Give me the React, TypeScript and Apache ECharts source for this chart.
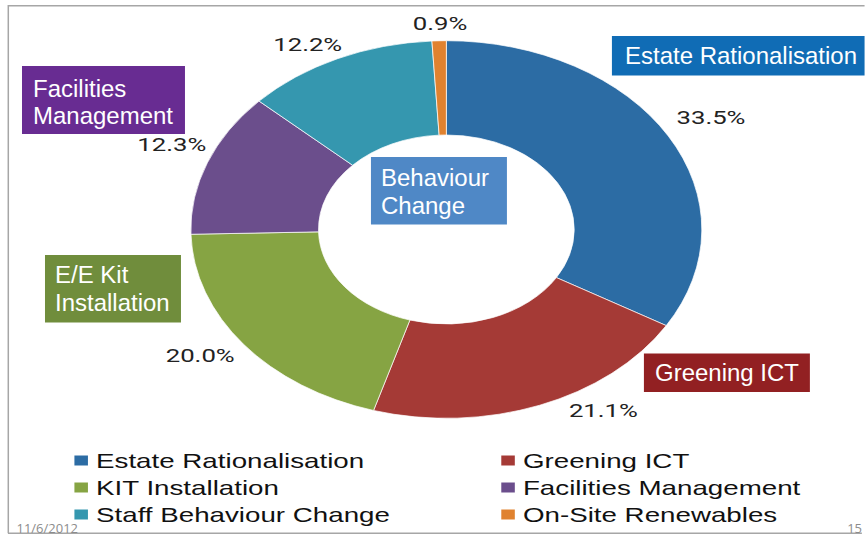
import React, { useEffect, useRef } from 'react';
import * as echarts from 'echarts';

// ---- data ----
const categories = [
  'Estate Rationalisation',
  'Greening ICT',
  'KIT Installation',
  'Facilities Management',
  'Staff Behaviour Change',
  'On-Site Renewables',
];
const values = [33.5, 21.1, 20.0, 12.3, 12.2, 0.9];
const sliceColors = ['#2C6CA4', '#A53A36', '#86A443', '#6B4E8C', '#3597AF', '#E0822F'];
const legendColumnA = [categories[0], categories[2], categories[4]];
const legendColumnB = [categories[1], categories[3], categories[5]];
const calloutTexts = [
  ['Estate Rationalisation'],
  ['Greening ICT'],
  ['Facilities', 'Management'],
  ['E/E Kit', 'Installation'],
  ['Behaviour', 'Change'],
];
const footerDate = '11/6/2012';
const footerPage = '15';

// ---- layout / style ----
const VIEW_W = 865;
const VIEW_H = 536;
const STRETCH = 1.353; // the original chart object is stretched horizontally
const CHART_W = VIEW_W / STRETCH;

const calloutBoxes = [
  { x: 612, y: 36, w: 262, h: 39.5, fill: '#106CB5', tx: 625, ty: [55] },
  { x: 644, y: 353.5, w: 166, h: 38.5, fill: '#922022', tx: 655, ty: [372] },
  { x: 22, y: 66, w: 163, h: 68, fill: '#682C92', tx: 33, ty: [88, 115.5] },
  { x: 45, y: 255, w: 136, h: 67.5, fill: '#708D3C', tx: 55, ty: [274.5, 302.5] },
  { x: 371, y: 157, w: 136, h: 67.5, fill: '#4F88C6', tx: 381, ty: [177, 205] },
];
const labelNudge = [
  [9, -5.5],
  [37.6, -19],
  [-11.4, -4],
  [-2, -9],
  [-11, 9.5],
  [1.4, 9],
];
const calloutFont = '"Liberation Sans", Arial, Helvetica, sans-serif';

export default function App() {
  const ref = useRef<HTMLDivElement>(null);

  useEffect(() => {
    if (!ref.current) return;
    document.body.style.margin = '0';
    const chart = echarts.init(ref.current, undefined, { renderer: 'svg' });

    const overlayChildren: any[] = [];
    // slide frame lines
    overlayChildren.push(
      { type: 'line', shape: { x1: 8, y1: 5.8, x2: 866, y2: 5.8 }, style: { stroke: '#a6a6a6', lineWidth: 1.5 } },
      { type: 'line', shape: { x1: 8.3, y1: 5, x2: 8.3, y2: 533.3 }, style: { stroke: '#a6a6a6', lineWidth: 1.5 } },
      { type: 'line', shape: { x1: 8, y1: 533.3, x2: 862, y2: 533.3 }, style: { stroke: '#a6a6a6', lineWidth: 1.5 } }
    );
    calloutBoxes.forEach((b, i) => {
      overlayChildren.push({
        type: 'rect',
        shape: { x: b.x, y: b.y, width: b.w, height: b.h },
        style: { fill: b.fill },
      });
      calloutTexts[i].forEach((t, j) => {
        overlayChildren.push({
          type: 'text',
          x: b.tx,
          y: b.ty[j],
          style: {
            text: t,
            fill: '#ffffff',
            fontSize: 24,
            fontFamily: calloutFont,
            align: 'left',
            verticalAlign: 'middle',
          },
        });
      });
    });
    overlayChildren.push(
      {
        type: 'text',
        x: 16.5,
        y: 527.5,
        style: { text: footerDate, fill: '#8c8c8c', fontSize: 13, fontFamily: '"Open Sans", sans-serif', align: 'left', verticalAlign: 'middle' },
      },
      {
        type: 'text',
        x: 862,
        y: 527.5,
        style: { text: footerPage, fill: '#8c8c8c', fontSize: 13, fontFamily: '"Open Sans", sans-serif', align: 'right', verticalAlign: 'middle' },
      }
    );

    const legendBase = {
      orient: 'vertical',
      top: 450,
      padding: 0,
      itemGap: 6,
      itemWidth: 12,
      itemHeight: 12,
      icon: 'rect',
      selectedMode: false,
      textStyle: { fontFamily: calloutFont, fontSize: 20.5, color: '#111111', lineHeight: 21 },
    };

    chart.setOption({
      animation: false,
      backgroundColor: 'transparent',
      legend: [
        { ...legendBase, left: 53, data: legendColumnA },
        { ...legendBase, left: 368.5, data: legendColumnB },
      ],
      series: [
        {
          type: 'pie',
          center: [329.9, 229.5],
          radius: [94.5, 188.8],
          startAngle: 90,
          clockwise: true,
          avoidLabelOverlap: false,
          silent: true,
          emphasis: { disabled: true },
          itemStyle: { borderColor: '#ffffff', borderWidth: 0.6 },
          label: {
            show: true,
            position: 'outside',
            formatter: (p: any) => Number(p.value).toFixed(1) + '%',
            fontFamily: 'Roboto, sans-serif',
            fontSize: 19,
            color: '#222222',
          },
          labelLine: { show: true, length: 26, length2: 0, lineStyle: { opacity: 0, width: 0 } },
          labelLayout: (p: any) => {
            const pts = p.labelLinePoints;
            if (!pts || !pts[1]) return {};
            const n = labelNudge[p.dataIndex] || [0, 0];
            return { x: pts[1][0] + n[0], y: pts[1][1] + n[1], align: 'center', verticalAlign: 'middle' };
          },
          data: categories.map((name, i) => ({
            name,
            value: values[i],
            itemStyle: { color: sliceColors[i] },
          })),
        },
      ],
      graphic: [
        {
          type: 'group',
          x: 0,
          y: 0,
          scaleX: 1 / STRETCH,
          scaleY: 1,
          silent: true,
          z: 100,
          children: overlayChildren,
        },
      ],
    });

    return () => chart.dispose();
  }, []);

  return (
    <div
      style={{
        position: 'fixed',
        left: 0,
        top: 0,
        width: VIEW_W,
        height: VIEW_H,
        overflow: 'hidden',
        background: '#ffffff',
      }}
    >
      <div
        ref={ref}
        style={{
          width: CHART_W,
          height: VIEW_H,
          transform: `scaleX(${STRETCH})`,
          transformOrigin: '0 0',
        }}
      />
    </div>
  );
}
